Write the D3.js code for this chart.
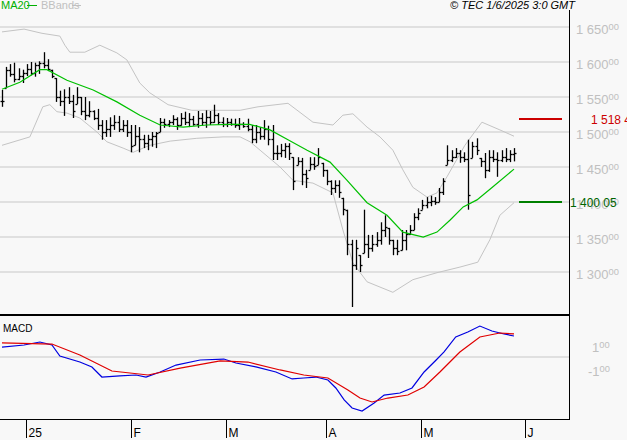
<!DOCTYPE html>
<html>
<head>
<meta charset="utf-8">
<script src="https://cdn.jsdelivr.net/npm/d3@7"></script>
<style>
  body { margin: 0; background: #f8f8f8; }
  svg { display: block; font-family: "Liberation Sans", Arial, sans-serif; }
</style>
</head>
<body>
<svg id="chart" width="627" height="440"></svg>
<script>
// daily bars: high / low / close (one per trading day)
const highs = [1560,1593,1597,1599,1591,1589,1597,1600,1599,1601,1614,1604,1589,1577,1559,1561,1564,1553,1564,1550,
  1550,1544,1531,1533,1517,1517,1521,1524,1523,1517,1517,1510,1510,1507,1496,1496,1500,1500,1520,1519,
  1517,1524,1521,1527,1529,1527,1523,1530,1527,1531,1530,1539,1527,1521,1520,1519,1519,1520,1514,1519,
  1510,1510,1507,1517,1509,1510,1481,1483,1484,1484,1464,1464,1463,1446,1464,1464,1477,1456,1446,1431,
  1431,1431,1406,1389,1346,1346,1324,1389,1353,1353,1357,1371,1381,1363,1346,1346,1360,1360,1367,1384,
  1391,1403,1407,1409,1407,1420,1434,1481,1474,1477,1474,1471,1489,1486,1491,1463,1470,1474,1474,1471,
  1474,1477,1474,1477];
const lows = [1536,1563,1579,1571,1574,1570,1580,1581,1579,1583,1591,1587,1577,1543,1537,1523,1540,1520,1540,1524,
  1517,1521,1517,1503,1489,1493,1493,1503,1500,1500,1493,1471,1481,1471,1477,1474,1479,1477,1500,1506,
  1507,1510,1503,1509,1510,1507,1509,1506,1509,1506,1510,1513,1510,1507,1507,1509,1506,1503,1506,1501,
  1484,1484,1489,1489,1481,1460,1460,1464,1463,1460,1417,1453,1424,1420,1446,1446,1453,1436,1424,1410,
  1413,1406,1381,1324,1250,1303,1300,1327,1320,1329,1336,1339,1350,1339,1324,1324,1331,1331,1353,1360,
  1374,1389,1391,1394,1396,1400,1410,1453,1457,1463,1456,1457,1389,1463,1467,1450,1434,1443,1457,1436,
  1457,1457,1457,1458];
const closes = [1545,1588,1583,1576,1580,1585,1590,1585,1595,1598,1596,1590,1580,1550,1545,1550,1545,1530,1550,1530,
  1525,1530,1520,1510,1500,1505,1510,1515,1505,1510,1500,1480,1495,1490,1485,1490,1495,1498,1515,1512,
  1514,1518,1510,1520,1515,1518,1512,1520,1514,1522,1515,1525,1515,1512,1515,1512,1510,1512,1508,1505,
  1490,1500,1495,1505,1490,1470,1470,1475,1480,1470,1430,1458,1440,1435,1455,1452,1465,1445,1430,1420,
  1425,1415,1390,1340,1310,1335,1310,1340,1335,1340,1345,1360,1365,1345,1335,1330,1345,1355,1360,1378,
  1385,1395,1400,1402,1400,1415,1430,1460,1465,1470,1465,1462,1410,1480,1475,1458,1445,1465,1462,1460,
  1465,1462,1468,1470];

// overlays: [bar index, value]
const ma20 = [[0,1561],[4.3,1571],[9.1,1589],[10.8,1589],[15.6,1574],[21.9,1560],[27.6,1543],[33.1,1524],
  [38,1510],[43.5,1507],[49.2,1510],[54.8,1511],[59.5,1511],[64.4,1503],[68.7,1489],[73.3,1474],[78.8,1457],
  [82.9,1431],[87.7,1399],[92.5,1381],[96.3,1357],[101.2,1350],[104.5,1357],[107.6,1374],[110.8,1393],
  [114.1,1403],[117.8,1421],[123,1447]];
const bbUpper = [[0,1643],[5.3,1647],[9.6,1641],[13.9,1637],[15.1,1624],[16.3,1614],[19.9,1614],[23.5,1624],
  [27.6,1613],[30,1603],[33.1,1570],[35.5,1556],[39.9,1539],[45.6,1531],[57.2,1531],[61.5,1536],[68.7,1541],
  [74.7,1514],[79.5,1510],[81.9,1524],[84.3,1526],[87.7,1507],[90.8,1493],[93.9,1474],[96.3,1446],[98.7,1421],
  [102.1,1407],[104.5,1413],[106.9,1436],[111.2,1481],[115.3,1514],[119.6,1503],[123,1494]];
const bbLower = [[0,1481],[6.7,1493],[9.8,1536],[11.5,1539],[13.2,1529],[15.6,1527],[18.7,1520],[22.8,1500],
  [25.2,1486],[29.1,1477],[31.5,1471],[35.5,1481],[40.4,1487],[46.8,1491],[53.1,1493],[57.2,1493],[59.6,1486],
  [62,1474],[66.8,1450],[69.9,1431],[74.7,1427],[79.5,1413],[81.9,1360],[84.3,1313],[87.7,1286],[93.9,1271],
  [98.7,1289],[104.5,1299],[110,1307],[114.3,1314],[117.2,1346],[119.6,1381],[123,1399]];
const macdLine = [[0,0.83],[5.3,1.0],[9.1,1.25],[12,1.0],[13.9,0.08],[18.7,-0.42],[21.6,-0.83],[24,-1.67],
  [28.3,-1.58],[32.2,-1.5],[34.6,-1.67],[38,-1.25],[41.8,-0.67],[47.6,-0.25],[53.3,-0.17],[56.2,-0.5],
  [61,-0.83],[65.8,-1.25],[69.7,-1.83],[72.5,-1.75],[75.4,-1.67],[78.3,-1.92],[80.2,-2.58],[82.2,-3.58],
  [84.1,-4.25],[86.5,-4.5],[89.4,-3.83],[91.8,-3.17],[95.6,-3.0],[98.5,-2.58],[101.4,-1.25],[104.3,-0.25],
  [106.2,0.42],[109,1.67],[111.9,2.08],[114.8,2.58],[117.7,2.17],[120.6,1.92],[123,1.75]];
const signalLine = [[0,1.17],[12,1.08],[18.7,0.17],[26.4,-1.17],[35.1,-1.5],[42.8,-0.92],[52.4,-0.33],
  [59.1,-0.42],[66.8,-1.08],[72.5,-1.5],[78.3,-1.75],[83.1,-2.75],[86,-3.42],[88.9,-3.75],[92.7,-3.42],
  [97.5,-3.17],[101.4,-2.5],[105.2,-1.25],[110,0.42],[114.8,1.67],[119.6,2.0],[123,1.92]];

const priceTicks = [1300,1350,1400,1450,1500,1550,1600,1650];
const macdTicks = [1,-1];
const monthTicks = [[5.8,"25"],[31,"F"],[53.8,"M"],[77.8,"A"],[100.6,"M"],[125.6,"J"]];
const levels = [[1518.4,"1 518 4","#cc0000","#cc0000"],[1400.05,"1 400 05","#008000","#006400"]];

const svg = d3.select("#chart");
const axisX = 569;
const x = d3.scaleLinear().domain([0,123]).range([2,514]);
const y = d3.scaleLinear().domain([1250,1650]).range([307,27]);
const ym = d3.scaleLinear().domain([-5,1]).range([417,345]);

svg.append("rect").attr("width",627).attr("height",440).attr("fill","#f8f8f8");

// price grid
svg.selectAll(".pg").data(priceTicks).enter().append("line")
  .attr("x1",0).attr("x2",axisX).attr("y1",d => y(d)).attr("y2",d => y(d))
  .attr("stroke","#c8c8c8").attr("stroke-width",1);

function priceLabel(g, xx, yy, intPart, dec, color, size) {
  const t = g.append("text").attr("x",xx).attr("y",yy).attr("fill",color).attr("font-size",size);
  t.append("tspan").text(intPart);
  t.append("tspan").attr("font-size",size*0.72).attr("dy",-4).text(dec);
  return t;
}
priceTicks.forEach(v => {
  const s = String(v);
  priceLabel(svg, 576, y(v)+7, s[0] + " " + s.slice(1), "00", "#c0c0c0", 13);
});

// bands and MA
const line = d3.line().x(d => x(d[0])).y(d => y(d[1]));
svg.append("path").attr("d",line(bbUpper)).attr("fill","none").attr("stroke","#c4c4c4");
svg.append("path").attr("d",line(bbLower)).attr("fill","none").attr("stroke","#c4c4c4");

// bars
const bars = svg.append("g").attr("stroke","#000").attr("stroke-width",1.3);
highs.forEach((h,i) => {
  const cx = Math.round(x(i)) + 0.5;
  bars.append("line").attr("x1",cx).attr("x2",cx).attr("y1",y(h)).attr("y2",y(lows[i]));
  const op = i > 0 ? closes[i-1] : closes[i];
  bars.append("line").attr("x1",cx-2).attr("x2",cx).attr("y1",Math.round(y(Math.min(Math.max(op,lows[i]),h)))+0.5)
    .attr("y2",Math.round(y(Math.min(Math.max(op,lows[i]),h)))+0.5);
  bars.append("line").attr("x1",cx).attr("x2",cx+2).attr("y1",Math.round(y(closes[i]))+0.5).attr("y2",Math.round(y(closes[i]))+0.5);
});

svg.append("path").attr("d",line(ma20)).attr("fill","none").attr("stroke","#00c000").attr("stroke-width",1.2);

// level markers
levels.forEach(l => {
  svg.append("line").attr("x1",519).attr("x2",562).attr("y1",y(l[0])).attr("y2",y(l[0]))
    .attr("stroke",l[2]).attr("stroke-width",2);
});
svg.append("text").attr("x",591).attr("y",y(1518.4)+5).attr("fill","#cc0000").attr("font-size",12).text("1 518 4");
svg.append("text").attr("x",570).attr("y",y(1400.05)+5).attr("fill","#006400").attr("font-size",12).text("1 400 05");

// legend / header
svg.append("text").attr("x",1).attr("y",9).attr("fill","#00b000").attr("font-size",11).text("MA20");
svg.append("line").attr("x1",27).attr("x2",37).attr("y1",5.5).attr("y2",5.5).attr("stroke","#00b000");
svg.append("text").attr("x",41).attr("y",9).attr("fill","#c0c0c0").attr("font-size",11).text("BBands");
svg.append("line").attr("x1",72).attr("x2",81).attr("y1",5.5).attr("y2",5.5).attr("stroke","#c0c0c0");
svg.append("text").attr("x",575).attr("y",9).attr("text-anchor","end").attr("font-size",11)
  .attr("font-style","italic").attr("fill","#000").text("© TEC 1/6/2025 3:0 GMT");

// MACD panel
svg.append("line").attr("x1",0).attr("x2",axisX).attr("y1",315).attr("y2",315).attr("stroke","#000").attr("stroke-width",2);
svg.append("line").attr("x1",0).attr("x2",axisX).attr("y1",ym(0)).attr("y2",ym(0)).attr("stroke","#c8c8c8");
svg.append("text").attr("x",3).attr("y",332).attr("font-size",10).attr("fill","#000").text("MACD");
macdTicks.forEach(v => {
  priceLabel(svg, v > 0 ? 592 : 588, ym(v)+7, v > 0 ? "1" : "-1", "00", "#c0c0c0", 13);
});
const mline = d3.line().x(d => x(d[0])).y(d => ym(d[1]));
svg.append("path").attr("d",mline(macdLine)).attr("fill","none").attr("stroke","#0000e0").attr("stroke-width",1.2);
svg.append("path").attr("d",mline(signalLine)).attr("fill","none").attr("stroke","#e00000").attr("stroke-width",1.2);
svg.append("line").attr("x1",0).attr("x2",axisX).attr("y1",419.5).attr("y2",419.5).attr("stroke","#000");
svg.append("line").attr("x1",axisX+0.5).attr("x2",axisX+0.5).attr("y1",10).attr("y2",420).attr("stroke","#000");

// month axis
monthTicks.forEach(m => {
  const tx = Math.round(x(m[0])) + 0.5;
  svg.append("line").attr("x1",tx).attr("x2",tx).attr("y1",420).attr("y2",438).attr("stroke","#000");
  svg.append("text").attr("x",tx+2).attr("y",437).attr("font-size",12).attr("fill","#000").text(m[1]);
});
</script>
</body>
</html>
